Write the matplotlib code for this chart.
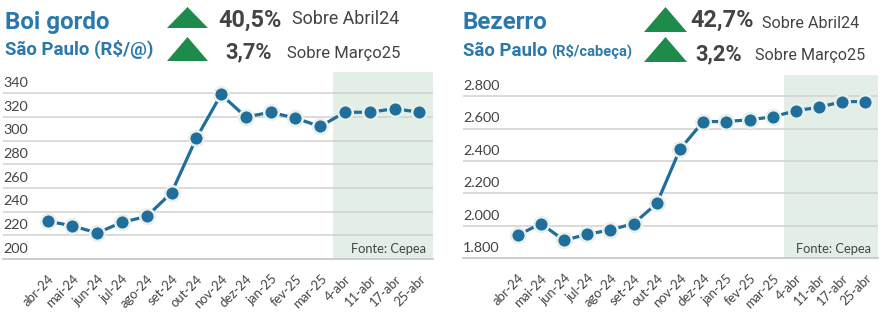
import matplotlib
matplotlib.use("Agg")
import matplotlib.pyplot as plt
from matplotlib.patches import Polygon
from matplotlib.transforms import blended_transform_factory, ScaledTranslation

# ---------------- data ----------------
categories = ["abr-24", "mai-24", "jun-24", "jul-24", "ago-24", "set-24", "out-24",
              "nov-24", "dez-24", "jan-25", "fev-25", "mar-25", "4-abr", "11-abr",
              "17-abr", "25-abr"]
boi_values = [232, 228, 222, 231, 236, 256, 302, 339, 320, 324, 319, 312, 324, 324, 327, 324]
bezerro_values = [1942, 2014, 1911, 1948, 1975, 2014, 2138, 2472, 2643, 2643, 2654, 2672,
                  2710, 2731, 2766, 2766]
boi_yticks = [200, 220, 240, 260, 280, 300, 320, 340]
boi_yticklabels = ["200", "220", "240", "260", "280", "300", "320", "340"]
bez_yticks = [1800, 2000, 2200, 2400, 2600, 2800]
bez_yticklabels = ["1.800", "2.000", "2.200", "2.400", "2.600", "2.800"]
weekly_start = 11.5  # shaded weekly region begins between mar-25 and 4-abr

W, H = 884, 316
fig = plt.figure(figsize=(W / 100, H / 100), dpi=100)
fig.patch.set_facecolor("white")

BLUE = "#1f6e9b"
HEAD = "#2b79ac"
GREEN = "#1e8b4b"
GREY = "#444444"
SHADE = "#e3eee7"
TICKFONT = "Lato"


def px(x, y):
    return (x / W, 1 - y / H)


def make_panel(rect, values, yticks, ylabels, ylim, xlim):
    ax = fig.add_axes(rect)
    x = list(range(len(categories)))
    ax.axvspan(weekly_start, xlim[1], color=SHADE, zorder=0, lw=0)
    for t in yticks[1:]:
        ax.axhline(t, color="#d4d4d4", lw=1.2, zorder=1)
    ax.plot(x, values, color=BLUE, lw=2.3, marker="o", ms=10.5,
            mfc=BLUE, mec="#e9efea", mew=1.8, zorder=3, solid_capstyle="round")
    ax.set_xlim(*xlim)
    ax.set_ylim(*ylim)
    for s in ["top", "right", "left"]:
        ax.spines[s].set_visible(False)
    ax.spines["bottom"].set_color("#c4c4c4")
    ax.spines["bottom"].set_linewidth(1.2)
    ax.set_facecolor("none")
    ax.set_yticks([])
    ax.set_xticks(x)
    ax.set_xticklabels(categories, rotation=45, ha="right", rotation_mode="anchor",
                       fontsize=9.4, color=GREY, family=TICKFONT)
    ax.tick_params(axis="x", length=0, pad=10)
    tr = blended_transform_factory(ax.transAxes, ax.transData) + \
        ScaledTranslation(0, 4.5 / 72, fig.dpi_scale_trans)
    for t, lab in zip(yticks, ylabels):
        ax.text(0.0, t, lab, transform=tr, ha="left", va="baseline",
                fontsize=10.4, color=GREY, family=TICKFONT)
    ax.text(0.985, 0.02, "Fonte: Cepea", transform=ax.transAxes, ha="right",
            va="bottom", fontsize=9.3, color=GREY, family=TICKFONT, zorder=4)
    return ax


make_panel([3 / W, 1 - 259 / H, 429.7 / W, 187 / H], boi_values, boi_yticks,
           boi_yticklabels, (200, 358), (-1.8, 15.54))
make_panel([463 / W, 1 - 258.3 / H, 414.7 / W, 183.3 / H], bezerro_values, bez_yticks,
           bez_yticklabels, (1800, 2930), (-2.36, 15.53))

# ---------------- header ----------------
HF = "Roboto"


def ftext(x, y, s, size, color, weight="normal"):
    return fig.text(*px(x, y), s, fontsize=size, color=color, fontweight=weight,
                    family=HF, ha="left", va="baseline")


def tri(x0, x1, ytop, ybot):
    pts = [px(x0, ybot), px(x1, ybot), px((x0 + x1) / 2, ytop)]
    fig.patches.append(Polygon(pts, closed=True, transform=fig.transFigure,
                               facecolor=GREEN, edgecolor="none"))


# left header
ftext(5, 29, "Boi gordo", 17.4, HEAD, "bold")
ftext(5, 55, "São Paulo (R$/@)", 13.4, HEAD, "bold")
tri(167, 208, 7, 28)
tri(167, 208, 37, 61)
ftext(218, 26.7, "40,5%", 16.8, GREY, "bold")
ftext(292, 24.5, "Sobre Abril24", 12.9, GREY)
ftext(225, 58.7, "3,7%", 15.8, GREY, "bold")
ftext(287, 58.3, "Sobre Março25", 12.0, GREY)

# right header
ftext(463, 29, "Bezerro", 17.4, HEAD, "bold")
sp = ftext(463, 56, "São Paulo", 13.4, HEAD, "bold")
fig.canvas.draw()
bb = sp.get_window_extent()
ftext(bb.x1 + 4, 56, "(R$/cabeça)", 10.6, HEAD, "bold")
tri(644, 687, 7, 32)
tri(644, 687, 37, 62)
ftext(690, 26.3, "42,7%", 16.8, GREY, "bold")
ftext(762, 28.3, "Sobre Abril24", 11.6, GREY)
ftext(695, 60, "3,2%", 15.8, GREY, "bold")
ftext(755, 60, "Sobre Março25", 11.6, GREY)

fig.savefig("out.png", dpi=100, facecolor="white")
